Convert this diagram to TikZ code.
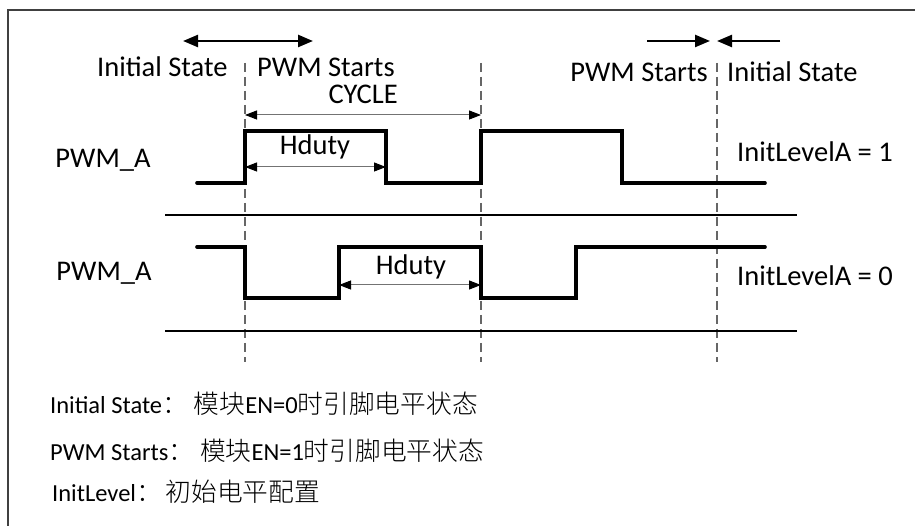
\documentclass[tikz,border=0pt]{standalone}
\usepackage{fontspec}
\setmainfont{Carlito}
\newfontfamily\cjk[Scale=1.05]{Noto Sans CJK SC Light}
\usetikzlibrary{arrows.meta}
\begin{document}
\begin{tikzpicture}[x=1pt,y=-1pt,
  wave/.style={line width=3.6pt, line join=miter, line cap=round},
  guide/.style={draw=black!60, line width=1.1pt, dash pattern=on 9pt off 5pt},
  sepline/.style={line width=1.7pt},
  span/.style={draw=black!55, line width=1pt,
    {Triangle[length=12pt,width=9pt,color=black]}-{Triangle[length=12pt,width=9pt,color=black]}},
  bigarrow/.style={line width=2.4pt, -{Triangle[length=15pt,width=12pt]}},
  bigboth/.style={line width=2.4pt, {Triangle[length=15pt,width=12pt]}-{Triangle[length=15pt,width=12pt]}},
  lbl/.style={font=\fontsize{28.5}{31}\selectfont, inner sep=0pt},
  note/.style={font=\fontsize{24.5}{27}\selectfont, inner sep=0pt, anchor=base west},
  frameline/.style={draw=black!75, line width=1.5pt}
]
\useasboundingbox (0,0) rectangle (915,526);
\fill[white] (0,0) rectangle (915,526);
% frame
\draw[frameline] (8,526) -- (8,10) -- (915,10);

% guide lines
\coordinate (g1t) at (245,63); \coordinate (g1b) at (245,362);
\coordinate (g2t) at (481,63); \coordinate (g2b) at (481,362);
\coordinate (g3t) at (717,63); \coordinate (g3b) at (717,362);
\draw[guide] (g1t) -- (g1b);
\draw[guide] (g2t) -- (g2b);
\draw[guide] (g3t) -- (g3b);

% separator lines
\coordinate (s1l) at (165,215); \coordinate (s1r) at (797,215);
\coordinate (s2l) at (165,331); \coordinate (s2r) at (797,331);
\draw[sepline] (s1l) -- (s1r);
\draw[sepline] (s2l) -- (s2r);

% waveforms
\draw[wave] (197,183) -- (245,183) -- (245,131) -- (386,131) -- (386,183)
  -- (481,183) -- (481,131) -- (622,131) -- (622,183) -- (765,183);
\draw[wave] (197,247) -- (245,247) -- (245,298) -- (339,298) -- (339,247)
  -- (481,247) -- (481,298) -- (576,298) -- (576,247) -- (765,247);

% top arrows
\coordinate (ta) at (183,41); \coordinate (tb) at (313,41);
\draw[bigboth] (ta) -- (tb);
\coordinate (ra) at (647,41); \coordinate (rb) at (710,41);
\coordinate (rc) at (780,41); \coordinate (rd) at (717,41);
\draw[bigarrow] (ra) -- (rb);
\draw[bigarrow] (rc) -- (rd);

% span arrows
\coordinate (ca) at (245,115); \coordinate (cb) at (481,115);
\draw[span] (ca) -- (cb);
\coordinate (h1a) at (245,167); \coordinate (h1b) at (386,167);
\draw[span] (h1a) -- (h1b);
\coordinate (h2a) at (339,285); \coordinate (h2b) at (481,285);
\draw[span] (h2a) -- (h2b);

% labels
\node[lbl, anchor=base west] (is1) at (97,77) {Initial State};
\node[lbl, anchor=base west] (ps1) at (257,77) {PWM Starts};
\node[lbl, anchor=base east] (cyc) at (398,104) {CYCLE};
\node[lbl, anchor=base east] (ps2) at (708,82) {PWM Starts};
\node[lbl, anchor=base west] (is2) at (727,82) {Initial State};
\node[lbl, anchor=base] (pa1) at (103,168) {PWM\_A};
\node[lbl, anchor=base] (pa2) at (104,281) {PWM\_A};
\node[lbl, anchor=base] (hd1) at (315,155) {Hduty};
\node[lbl, anchor=base] (hd2) at (411,275) {Hduty};
\node[lbl, anchor=base west] (il1) at (737,162) {InitLevelA = 1};
\node[lbl, anchor=base west] (il0) at (737,286) {InitLevelA = 0};

% notes
\node[note] (n1) at (50,413) {Initial State{\cjk ：}\hspace{6pt}{\cjk 模块}EN=0{\cjk 时引脚电平状态}};
\node[note] (n2) at (50,460) {PWM Starts{\cjk ：}\hspace{6pt}{\cjk 模块}EN=1{\cjk 时引脚电平状态}};
\node[note] (n3) at (52,501) {InitLevel{\cjk ：}\hspace{4pt}{\cjk 初始电平配置}};
\end{tikzpicture}
\end{document}
